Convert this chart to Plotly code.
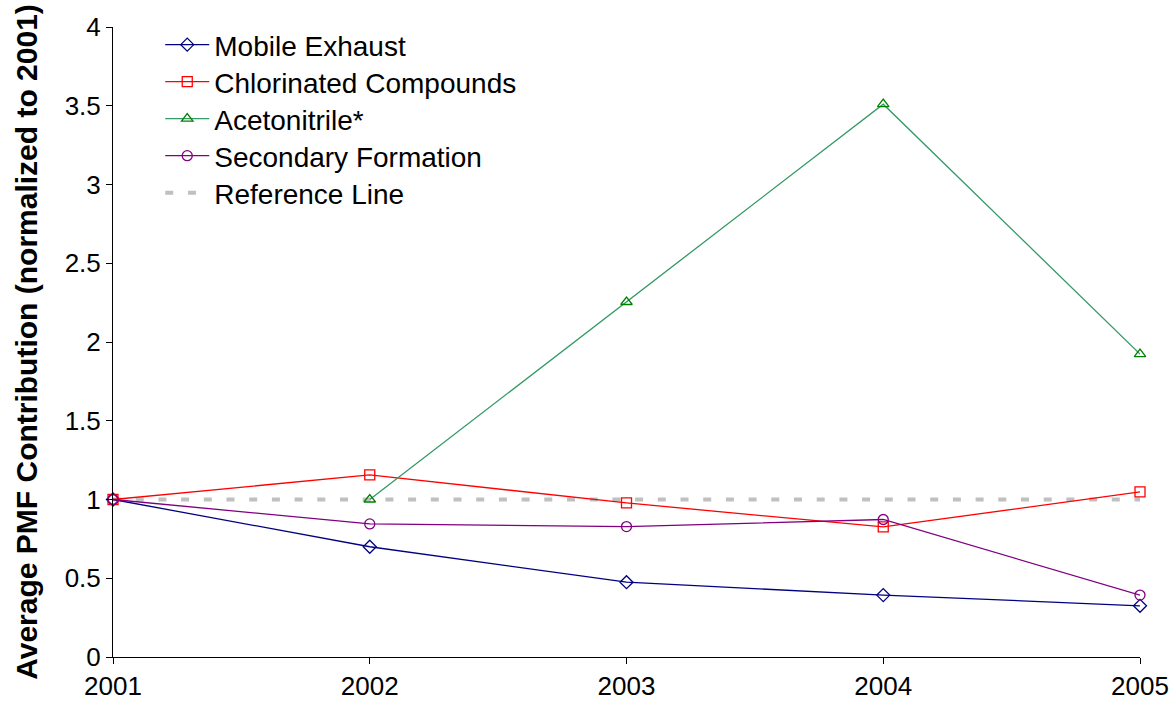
import plotly.graph_objects as go

years = [2001, 2002, 2003, 2004, 2005]
mobile_exhaust = [1.0, 0.70, 0.475, 0.393, 0.325]
chlorinated = [1.0, 1.156, 0.978, 0.826, 1.048]
acetonitrile = [None, 1.0, 2.254, 3.51, 1.923]
secondary = [1.0, 0.845, 0.828, 0.873, 0.393]
reference = [1, 1, 1, 1, 1]

y_ticks = [0, 0.5, 1, 1.5, 2, 2.5, 3, 3.5, 4]
y_tick_labels = ["0", "0.5", "1", "1.5", "2", "2.5", "3", "3.5", "4"]

legend_rows = [0.9715, 0.9128, 0.8540, 0.7953, 0.7366]

fig = go.Figure()

def add(name, y, color, mcolor, symbol, legend):
    fig.add_trace(go.Scatter(
        x=years, y=y, name=name, mode="lines+markers",
        line=dict(color=color, width=1.3),
        marker=dict(symbol=symbol, size=10, color=mcolor, line=dict(color=mcolor, width=1.3)),
        cliponaxis=False, connectgaps=False, legend=legend,
    ))

fig.add_trace(go.Scatter(
    x=years, y=reference, name="Reference Line", mode="lines",
    line=dict(color="#C0C0C0", width=4, dash="8px,14.7px"), legend="legend5",
))
add("Mobile Exhaust", mobile_exhaust, "#000080", "#000080", "diamond-open", "legend")
add("Chlorinated Compounds", chlorinated, "#FF0000", "#FF0000", "square-open", "legend2")
add("Acetonitrile*", acetonitrile, "#339966", "#008000", "triangle-up-open", "legend3")
add("Secondary Formation", secondary, "#800080", "#800080", "circle-open", "legend4")

def leg(yv):
    return dict(x=0.046, y=yv, xanchor="left", yanchor="middle",
                bgcolor="rgba(0,0,0,0)", itemwidth=44, font=dict(size=28))

fig.update_layout(
    width=1173, height=709,
    margin=dict(l=113, r=33, t=27, b=52, autoexpand=False),
    paper_bgcolor="white", plot_bgcolor="white",
    font=dict(family="Liberation Sans, Arial, sans-serif", size=26, color="black"),
    showlegend=True,
    legend=leg(legend_rows[0]),
    legend2=leg(legend_rows[1]),
    legend3=leg(legend_rows[2]),
    legend4=leg(legend_rows[3]),
    legend5=leg(legend_rows[4]),
    xaxis=dict(range=[2001, 2005], tickvals=years, ticktext=[str(y) for y in years],
               showgrid=False, zeroline=False, showline=True, linecolor="black", linewidth=1,
               ticks="outside", ticklen=6, tickcolor="black", automargin=False),
    yaxis=dict(range=[0, 4], tickvals=y_ticks, ticktext=y_tick_labels,
               showgrid=False, zeroline=False, showline=True, linecolor="black", linewidth=1,
               ticks="outside", ticklen=6, tickcolor="black", automargin=False,
               title=dict(text="<b>Average PMF Contribution (normalized to 2001)</b>",
                          font=dict(size=30), standoff=18)),
)

fig.write_html("out.html", config={"displayModeBar": False},
               post_script="document.body.style.margin='0';document.body.style.overflow='hidden';")
